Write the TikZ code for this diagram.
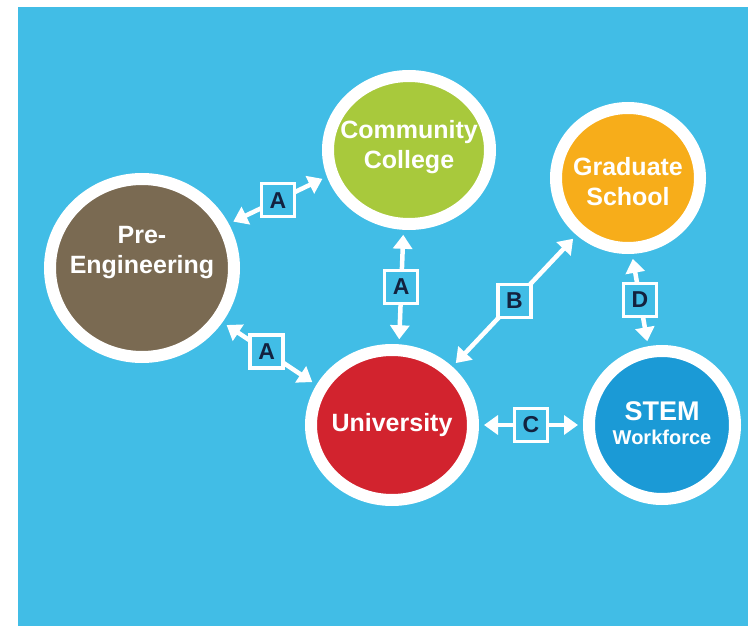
\documentclass[tikz,border=0pt]{standalone}
\usepackage{fontspec}
\setmainfont{Liberation Sans}
\usetikzlibrary{arrows.meta,shapes.geometric}
\definecolor{bgblue}{HTML}{41BDE6}
\definecolor{cgreen}{HTML}{A8C93C}
\definecolor{cbrown}{HTML}{7A6A52}
\definecolor{cred}{HTML}{D2232E}
\definecolor{corange}{HTML}{F7AD1A}
\definecolor{cstem}{HTML}{1B9AD6}
\definecolor{navy}{HTML}{13223F}
\begin{document}
\begin{tikzpicture}[x=1pt,y=-1pt,
  ring/.style={ellipse,draw=white,line width=12pt,inner sep=0pt},
  ctext/.style={text=white,font=\bfseries\fontsize{25}{30}\selectfont,align=center},
  arr/.style={white,line width=4.5pt,{Triangle[width=19pt,length=14pt]}-{Triangle[width=19pt,length=14pt]},shorten <=5pt,shorten >=5pt},
  lbl/.style={draw=white,line width=3.5pt,fill=bgblue,minimum size=33pt,inner sep=0pt,text=navy,font=\bfseries\fontsize{23}{23}\selectfont}]
\useasboundingbox (0,0) rectangle (748,626);
\fill[white] (0,0) rectangle (748,626);
\fill[bgblue] (18,7) rectangle (748,626);
\node[ring,fill=cbrown,minimum width=184pt,minimum height=178pt,label={[ctext,yshift=15pt]center:Pre-\\Engineering}] (pre) at (142,268) {};
\node[ring,fill=cgreen,minimum width=162pt,minimum height=148pt,label={[ctext,yshift=3pt]center:Community\\College}] (cc) at (409,150) {};
\node[ring,fill=cred,minimum width=162pt,minimum height=150pt,label={[ctext]center:University}] (uni) at (392,425) {};
\node[ring,fill=corange,minimum width=144pt,minimum height=140pt,label={[ctext,yshift=-4pt]center:Graduate\\School}] (grad) at (628,178) {};
\node[ring,fill=cstem,minimum width=146pt,minimum height=148pt,label={[text=white,font=\bfseries\fontsize{27}{24}\selectfont,align=center,yshift=2pt]center:STEM\\{\fontsize{20}{24}\selectfont Workforce}}] (stem) at (662,425) {};
\draw[arr] (pre.27) -- node[lbl] (a1) {A} (cc.198);
\draw[arr] (pre.-34) -- node[lbl,pos=0.47] (a2) {A} (uni.152);
\draw[arr] (cc.-94) -- node[lbl] (a3) {A} (uni.85);
\draw[arr] (uni.44) -- node[lbl] (b) {B} (grad.228);
\draw[arr] (uni.0) -- node[lbl] (c) {C} (stem.180);
\draw[arr] (grad.-87) -- node[lbl] (d) {D} (stem.100);
\end{tikzpicture}
\end{document}
